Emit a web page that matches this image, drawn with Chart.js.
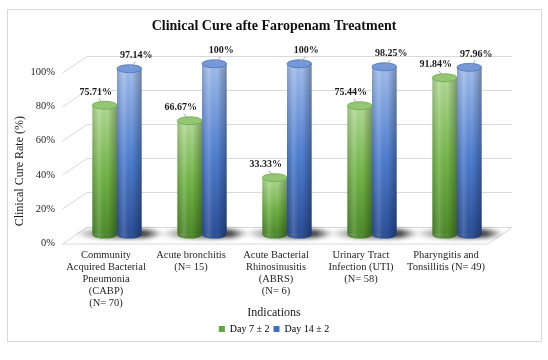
<!DOCTYPE html>
<html>
<head>
<meta charset="utf-8">
<title>Clinical Cure</title>
<script src="https://cdn.jsdelivr.net/npm/chart.js@4.4.1/dist/chart.umd.min.js"></script>
<style>
    html, body { margin: 0; padding: 0; background: #fff; }
    #bingkai {
        position: absolute; left: 7px; top: 9px;
        width: 535px; height: 333px;
        box-sizing: border-box; border: 1px solid #d9d9d9;
    }
    #wadah { position: absolute; left: 0; top: 0; width: 548px; height: 360px; }
</style>
</head>
<body>
<div id="bingkai"></div>
<div id="wadah"><canvas id="grafikKesembuhan" width="548" height="360"></canvas></div>
<script>
// === DATA ===
const kategori = [
    ['Community', 'Acquired Bacterial', 'Pneumonia', '(CABP)', '(N= 70)'],
    ['Acute bronchitis', '(N= 15)'],
    ['Acute Bacterial', 'Rhinosinusitis', '(ABRS)', '(N= 6)'],
    ['Urinary Tract', 'Infection (UTI)', '(N= 58)'],
    ['Pharyngitis and', 'Tonsillitis (N= 49)']
];
const hari7 = [75.71, 66.67, 33.33, 75.44, 91.84];
const hari14 = [97.14, 100, 100, 98.25, 97.96];
const tickY = [0, 20, 40, 60, 80, 100];

const FONT = 'Liberation Serif';
// geser bidang depan / belakang (efek 3D)
const DEPAN = { dx: -12, dy: 8.5 };
const BELAKANG = { dx: 12.5, dy: -8 };

const warnaHijau = { terang: '#b3dc95', tengah: '#72b447', gelap: '#4e8b2a', atas: '#93c772', tepi: '#6fa84c', legenda: '#5fa83a' };
const warnaBiru = { terang: '#a3bfee', tengah: '#4e7ed0', gelap: '#2b4f99', atas: '#7598d8', tepi: '#4d72b8', legenda: '#3f6fc4' };

function formatPersen(v) {
    return Number.isInteger(v) ? v + '%' : v.toFixed(2) + '%';
}

function isiBatang(ctx, w) {
    const chart = ctx.chart;
    const area = chart.chartArea;
    if (!area || ctx.raw === undefined || ctx.raw === null) return w.legenda;
    const yAtas = chart.scales.y.getPixelForValue(ctx.raw);
    const g = chart.ctx.createLinearGradient(0, yAtas, 0, area.bottom);
    g.addColorStop(0, w.terang);
    g.addColorStop(0.55, w.tengah);
    g.addColorStop(1, w.gelap);
    return g;
}

// === Plugin: dinding 3D, bayangan, tutup silinder, label ===
const pluginSilinder = {
    id: 'silinder3d',
    beforeDatasetsDraw(chart) {
        const ctx = chart.ctx;
        const a = chart.chartArea;
        const ys = chart.scales.y;
        ctx.save();
        ctx.strokeStyle = '#d9d9d9';
        ctx.lineWidth = 1;
        tickY.forEach(v => {
            const y = Math.round(ys.getPixelForValue(v)) + 0.5;
            ctx.beginPath();
            ctx.moveTo(a.left + DEPAN.dx, y + DEPAN.dy);
            ctx.lineTo(a.left + BELAKANG.dx, y + BELAKANG.dy);
            ctx.lineTo(a.right + BELAKANG.dx, y + BELAKANG.dy);
            ctx.stroke();
        });
        const y0 = Math.round(ys.getPixelForValue(0)) + 0.5;
        ctx.beginPath();
        ctx.moveTo(a.left + DEPAN.dx, y0 + DEPAN.dy);
        ctx.lineTo(a.right + DEPAN.dx, y0 + DEPAN.dy);
        ctx.lineTo(a.right + BELAKANG.dx, y0 + BELAKANG.dy);
        ctx.stroke();

        // bayangan di lantai
        const m0 = chart.getDatasetMeta(0).data;
        const m1 = chart.getDatasetMeta(1).data;
        m0.forEach((el, i) => {
            const kiri = el.x - el.width / 2;
            const kanan = m1[i].x + m1[i].width / 2;
            const g = ctx.createLinearGradient(kiri - 20, 0, kanan + 22, 0);
            g.addColorStop(0, 'rgba(60,60,60,0)');
            g.addColorStop(0.3, 'rgba(50,50,50,0.55)');
            g.addColorStop(0.8, 'rgba(30,30,30,0.85)');
            g.addColorStop(1, 'rgba(30,30,30,0)');
            ctx.save();
            ctx.filter = 'blur(2px)';
            ctx.fillStyle = g;
            ctx.beginPath();
            ctx.ellipse((kiri + kanan) / 2 + 3, el.base - 1, (kanan - kiri) / 2 + 20, 5, 0, 0, Math.PI * 2);
            ctx.fill();
            ctx.restore();
        });
        ctx.restore();
    },
    afterDatasetsDraw(chart) {
        const ctx = chart.ctx;
        const a = chart.chartArea;
        const ry = 4;
        ctx.save();
        chart.data.datasets.forEach((ds, di) => {
            const w = di === 0 ? warnaHijau : warnaBiru;
            chart.getDatasetMeta(di).data.forEach((el, i) => {
                const L = el.x - el.width / 2;
                const R = el.x + el.width / 2;
                const rx = el.width / 2;
                // alas silinder
                ctx.fillStyle = w.gelap;
                ctx.beginPath();
                ctx.ellipse(el.x, el.base, rx, ry, 0, 0, Math.PI);
                ctx.fill();
                // bayangan samping
                const hg = ctx.createLinearGradient(L, 0, R, 0);
                hg.addColorStop(0, 'rgba(0,0,0,0.15)');
                hg.addColorStop(0.28, 'rgba(255,255,255,0.14)');
                hg.addColorStop(0.6, 'rgba(0,0,0,0)');
                hg.addColorStop(1, 'rgba(0,0,0,0.3)');
                ctx.fillStyle = hg;
                ctx.fillRect(L, el.y, el.width, el.base - el.y);
                ctx.beginPath();
                ctx.ellipse(el.x, el.base, rx, ry, 0, 0, Math.PI);
                ctx.fill();
                // tutup atas
                ctx.fillStyle = w.atas;
                ctx.strokeStyle = w.tepi;
                ctx.lineWidth = 0.8;
                ctx.beginPath();
                ctx.ellipse(el.x, el.y, rx, ry, 0, 0, Math.PI * 2);
                ctx.fill();
                ctx.stroke();

                // label nilai + garis penunjuk
                const arah = di === 0 ? -1 : 1;
                const tx = el.x + (di === 0 ? -9 : 7);
                const ty = el.y - 13;
                ctx.strokeStyle = '#a6a6a6';
                ctx.lineWidth = 1;
                ctx.beginPath();
                ctx.moveTo(el.x + arah * 1, el.y - 1);
                ctx.lineTo(el.x + arah * 6, el.y - 7);
                ctx.stroke();
                ctx.fillStyle = '#1a1a1a';
                ctx.font = 'bold 10px "' + FONT + '"';
                ctx.textAlign = 'center';
                ctx.textBaseline = 'middle';
                ctx.fillText(formatPersen(ds.data[i]), tx, ty);
            });
        });

        // judul sumbu Y
        ctx.fillStyle = '#1a1a1a';
        ctx.font = '12px "' + FONT + '"';
        ctx.translate(a.left - 54.5, (a.top + a.bottom) / 2 + 22);
        ctx.rotate(-Math.PI / 2);
        ctx.textAlign = 'center';
        ctx.textBaseline = 'middle';
        ctx.fillText('Clinical Cure Rate (%)', 0, 0);
        ctx.restore();
    }
};

const ctxGrafik = document.getElementById('grafikKesembuhan').getContext('2d');
const grafikKesembuhan = new Chart(ctxGrafik, {
    type: 'bar',
    data: {
        labels: kategori,
        datasets: [{
            label: 'Day 7 \u00b1 2',
            data: hari7,
            backgroundColor: ctx => isiBatang(ctx, warnaHijau),
            borderWidth: 0,
            barPercentage: 1,
            categoryPercentage: 0.58
        }, {
            label: 'Day 14 \u00b1 2',
            data: hari14,
            backgroundColor: ctx => isiBatang(ctx, warnaBiru),
            borderWidth: 0,
            barPercentage: 1,
            categoryPercentage: 0.58
        }]
    },
    options: {
        responsive: false,
        animation: false,
        layout: { padding: { left: 0, right: 0, top: 0, bottom: 16 } },
        scales: {
            x: {
                afterFit: s => { s.height = 76; },
                grid: { display: false, drawTicks: false },
                border: { display: false },
                ticks: {
                    padding: 15,
                    labelOffset: -11,
                    maxRotation: 0,
                    autoSkip: false,
                    color: '#262626',
                    font: { family: FONT, size: 10.5, lineHeight: '12px' }
                }
            },
            y: {
                min: 0,
                max: 100,
                afterFit: s => { s.width = 74.5; },
                afterBuildTicks: s => { s.ticks = tickY.map(v => ({ value: v })); },
                grid: { display: false, drawTicks: false },
                border: { display: false },
                ticks: {
                    padding: 19.5,
                    labelOffset: 8.5,
                    color: '#262626',
                    font: { family: FONT, size: 10.5 },
                    callback: v => v + '%'
                }
            },
            kanan: {
                type: 'linear',
                position: 'right',
                afterFit: s => { s.width = 48.5; },
                grid: { display: false, drawTicks: false },
                border: { display: false },
                ticks: { display: false }
            }
        },
        plugins: {
            title: {
                display: true,
                text: 'Clinical Cure afte Faropenam Treatment',
                color: '#111',
                font: { family: FONT, size: 14, weight: 'bold' },
                padding: { top: 18, bottom: 29 }
            },
            subtitle: {
                display: true,
                text: 'Indications',
                position: 'bottom',
                weight: 500,
                color: '#1a1a1a',
                font: { family: FONT, size: 12, weight: 'normal' },
                padding: { top: -5, bottom: 0 }
            },
            legend: {
                position: 'bottom',
                labels: {
                    boxWidth: 6,
                    boxHeight: 6,
                    padding: 4,
                    color: '#1a1a1a',
                    font: { family: FONT, size: 10 },
                    generateLabels: chart => chart.data.datasets.map((ds, i) => ({
                        text: ds.label,
                        fillStyle: i === 0 ? warnaHijau.legenda : warnaBiru.legenda,
                        strokeStyle: 'transparent',
                        lineWidth: 0,
                        datasetIndex: i
                    }))
                }
            },
            tooltip: { enabled: false }
        }
    },
    plugins: [pluginSilinder]
});
</script>
</body>
</html>
